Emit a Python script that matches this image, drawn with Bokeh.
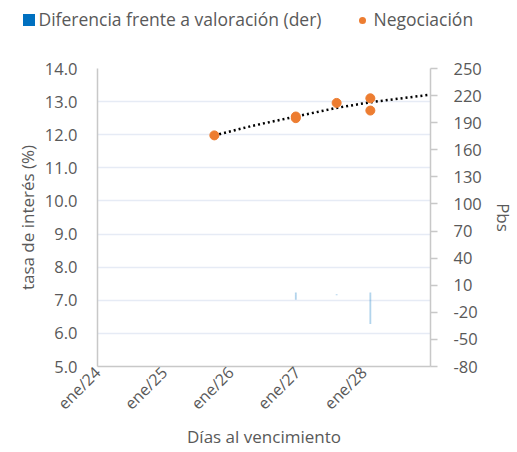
import pandas as pd
from math import pi
from bokeh.plotting import figure
from bokeh.layouts import column
from bokeh.models import (Range1d, LinearAxis, FixedTicker, ColumnDataSource,
                          NumeralTickFormatter, Div)
from bokeh.embed import file_html
from bokeh.resources import INLINE

# ---- data ----
trade_dates = ["2025-10-03", "2026-12-24", "2026-12-24", "2027-08-05", "2028-02-06", "2028-02-06"]
trade_rates = [11.98, 12.55, 12.50, 12.96, 13.10, 12.73]

diff_dates = ["2026-12-24", "2026-12-24", "2027-08-05", "2028-02-06", "2028-02-06"]
diff_pbs = [2, -6, -1, 2, -33]

trend_dates = ["2025-10-03", "2026-05-01", "2026-12-24", "2027-08-05", "2028-02-06", "2029-01-01"]
trend_rates = [11.98, 12.27, 12.55, 12.81, 12.98, 13.21]

x_tick_dates = ["2024-01-01", "2025-01-01", "2026-01-01", "2027-01-01", "2028-01-01"]
x_tick_labels = ["ene/24", "ene/25", "ene/26", "ene/27", "ene/28"]
left_ticks = [5, 6, 7, 8, 9, 10, 11, 12, 13, 14]
right_ticks = [-80, -50, -20, 10, 40, 70, 100, 130, 160, 190, 220, 250]

legend_labels = ["Diferencia frente a valoración (der)", "Negociación"]

FONT = "Open Sans"
TXT = "#595959"
TICK_FS = "16px"
TITLE_FS = "17px"
BAR_C = "#0070C0"
PT_C = "#ED7D31"

W = 517
LEG_H = 40
MAIN_H = 412


def ms(d):
    return pd.Timestamp(d).value / 1e6


# ---- legend strip (HTML) ----
leg_html = (
    f"<div style=\"position:relative;width:{W}px;height:{LEG_H}px;font-family:'{FONT}';"
    f"font-size:17.5px;color:{TXT};white-space:nowrap;\">"
    f"<span style=\"position:absolute;left:22.5px;top:13.5px;width:12px;height:12px;"
    f"background:{BAR_C};\"></span>"
    f"<span style=\"position:absolute;left:38.5px;top:8px;line-height:23px;\">{legend_labels[0]}</span>"
    f"<span style=\"position:absolute;left:358.5px;top:16.5px;width:7px;height:7px;"
    f"border-radius:50%;background:{PT_C};\"></span>"
    f"<span style=\"position:absolute;left:373.5px;top:8px;line-height:23px;\">{legend_labels[1]}</span>"
    f"</div>"
)
leg = Div(text=leg_html, width=W, height=LEG_H, margin=(0, 0, 0, 0))

# ---- main chart ----
p = figure(width=W, height=MAIN_H, x_axis_type="datetime", output_backend="svg",
           toolbar_location=None, min_border_left=97, min_border_right=84,
           min_border_top=28, min_border_bottom=86,
           x_range=Range1d(ms("2024-01-01"), ms("2029-01-01")),
           y_range=Range1d(5, 14))
p.outline_line_color = None
p.background_fill_color = "white"
p.border_fill_color = "white"
p.extra_y_ranges = {"right": Range1d(-80, 250)}

bar_src = ColumnDataSource(dict(x=[pd.Timestamp(d) for d in diff_dates], top=diff_pbs))
p.vbar(x="x", top="top", bottom=0, width=10 * 86400000, source=bar_src,
       y_range_name="right", fill_color=BAR_C, line_color=None, fill_alpha=0.3)

p.line([pd.Timestamp(d) for d in trend_dates], trend_rates, line_color="black",
       line_width=2.5, line_dash="2 3")

p.scatter([pd.Timestamp(d) for d in trade_dates], trade_rates, size=9,
          fill_color=PT_C, line_color=PT_C)

xa = p.xaxis[0]
xa.ticker = FixedTicker(ticks=[ms(d) for d in x_tick_dates])
xa.major_label_overrides = {ms(d): l for d, l in zip(x_tick_dates, x_tick_labels)}
xa.major_label_orientation = pi / 4
xa.axis_label = "Días al vencimiento"

ya = p.yaxis[0]
ya.ticker = FixedTicker(ticks=left_ticks)
ya.formatter = NumeralTickFormatter(format="0.0")
ya.axis_label = "tasa de interés (%)"

ra = LinearAxis(y_range_name="right", ticker=FixedTicker(ticks=right_ticks),
                formatter=NumeralTickFormatter(format="0"), axis_label="Pbs")
p.add_layout(ra, "right")

for ax in (xa, ya, ra):
    ax.axis_line_color = "#C8C8C8"
    ax.axis_line_width = 1.5
    ax.major_tick_line_color = "#C8C8C8"
    ax.major_tick_line_width = 1.5
    ax.minor_tick_line_color = None
    ax.major_label_text_font = FONT
    ax.major_label_text_font_size = TICK_FS
    ax.major_label_text_color = TXT
    ax.axis_label_text_font = FONT
    ax.axis_label_text_font_size = TITLE_FS
    ax.axis_label_text_color = TXT
    ax.axis_label_text_font_style = "normal"

ya.major_label_text_font_size = "16.5px"
ra.major_label_text_font_size = "16.5px"

xa.major_tick_out = 0
xa.major_tick_in = 0
xa.major_label_standoff = 3
xa.axis_label_standoff = 0
ya.major_tick_out = 0
ya.major_tick_in = 0
ya.major_label_standoff = 20
ya.axis_label_standoff = 3
ra.major_tick_out = 7
ra.major_tick_in = 0
ra.major_label_standoff = 16
ra.axis_label_standoff = 7

p.xgrid.grid_line_color = None
p.ygrid.grid_line_color = "#E6EBF5"
p.ygrid.grid_line_width = 1.5
p.ygrid.ticker = FixedTicker(ticks=left_ticks)

open("out.html", "w").write(file_html(column(leg, p, spacing=0), INLINE))
